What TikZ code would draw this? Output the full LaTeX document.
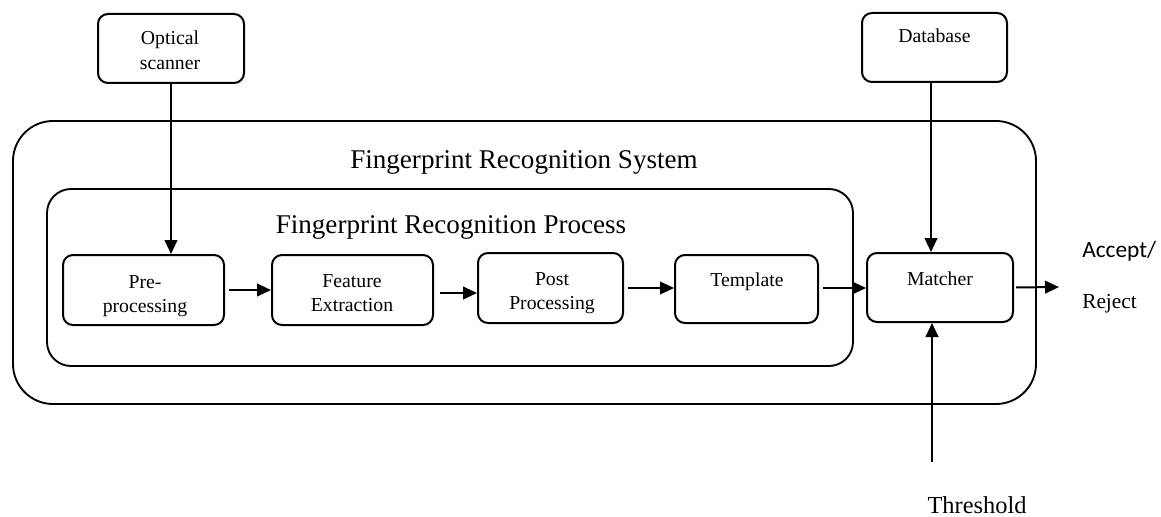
\documentclass[tikz,border=0pt]{standalone}
\usepackage{fontspec}
\setmainfont{Liberation Serif}
\newfontfamily\calib{Carlito}
\usetikzlibrary{arrows.meta}
\begin{document}
\begin{tikzpicture}[x=0.75pt,y=-0.75pt,
  box/.style={draw, line width=1.5pt, rounded corners=7.5pt, inner sep=0pt},
  bigbox/.style={draw, line width=1.4pt, inner sep=0pt},
  txt/.style={anchor=base, inner sep=0pt, font=\fontsize{14.8}{18}\selectfont},
  head/.style={anchor=base, inner sep=0pt, font=\fontsize{20.3}{24}\selectfont},
  arr/.style={line width=1.5pt, -{Triangle[length=10.5pt,width=9.5pt]}}
]
\useasboundingbox (0,0) rectangle (1161,517);

% containers
\node[bigbox, rounded corners=30pt, minimum width=767.25pt, minimum height=212.25pt] (sys) at (524.5,262.5) {};
\node[bigbox, rounded corners=18pt, minimum width=604.5pt, minimum height=132.75pt] (proc) at (450,277.5) {};
\node[head] (syst) at (524,168) {Fingerprint Recognition System};
\node[head] (proct) at (451,233) {Fingerprint Recognition Process};

% outer boxes
\node[box, minimum width=109.5pt, minimum height=51.75pt] (opt) at (171,48.5) {};
\node[txt] (opt1) at (170,45) {Optical};
\node[txt] (opt2) at (170,70) {scanner};

\node[box, minimum width=108.75pt, minimum height=51.75pt] (db) at (934.5,47.5) {};
\node[txt] (dbt) at (934.5,43) {Database};

% process boxes
\node[box, minimum width=120.75pt, minimum height=52.5pt] (pre) at (143.5,290) {};
\node[txt] (pre1) at (145,288) {Pre-};
\node[txt] (pre2) at (145,312) {processing};

\node[box, minimum width=120.75pt, minimum height=52.5pt] (feat) at (352.5,290) {};
\node[txt] (feat1) at (352,287) {Feature};
\node[txt] (feat2) at (352,311) {Extraction};

\node[box, minimum width=108.75pt, minimum height=52.5pt] (post) at (550.5,288) {};
\node[txt] (post1) at (552,285) {Post};
\node[txt] (post2) at (552,309) {Processing};

\node[box, minimum width=107.25pt, minimum height=51pt] (tmpl) at (746.5,289) {};
\node[txt] (tmplt) at (747,286) {Template};

\node[box, minimum width=109.5pt, minimum height=51.75pt] (mat) at (940,287.5) {};
\node[txt] (matt) at (940,285) {Matcher};

% external labels
\coordinate (thr) at (932,462);
\coordinate (out) at (1059,287);
\node[anchor=base, inner sep=0pt, font=\fontsize{18.3}{22}\selectfont] (thrt) at (977,513) {Threshold};
\node[anchor=base west, inner sep=0pt, font=\calib\fontsize{17.5}{21}\selectfont] (acc) at (1082,257) {Accept/};
\node[anchor=base west, inner sep=0pt, font=\fontsize{16}{20}\selectfont] (rej) at (1082,308) {Reject};

% connectors
\draw[arr] (opt.south) -- (opt.south |- pre.north);
\draw[arr] (db.south -| 931,0) -- (mat.north -| 931,0);
\draw[arr] (thr) -- (thr |- mat.south);
\draw[arr, shorten <=3pt] (pre.east) -- (feat.west);
\draw[arr, shorten <=4.5pt] ([yshift=-2.25pt]feat.east) -- ([yshift=-2.25pt]feat.east -| post.west);
\draw[arr, shorten <=3pt] (post.east) -- (post.east -| tmpl.west);
\draw[arr, shorten <=3pt] ([yshift=0.75pt]tmpl.east) -- ([yshift=0.75pt]tmpl.east -| mat.west);
\draw[arr, shorten <=1.5pt] (mat.east) -- (out);
\end{tikzpicture}
\end{document}
